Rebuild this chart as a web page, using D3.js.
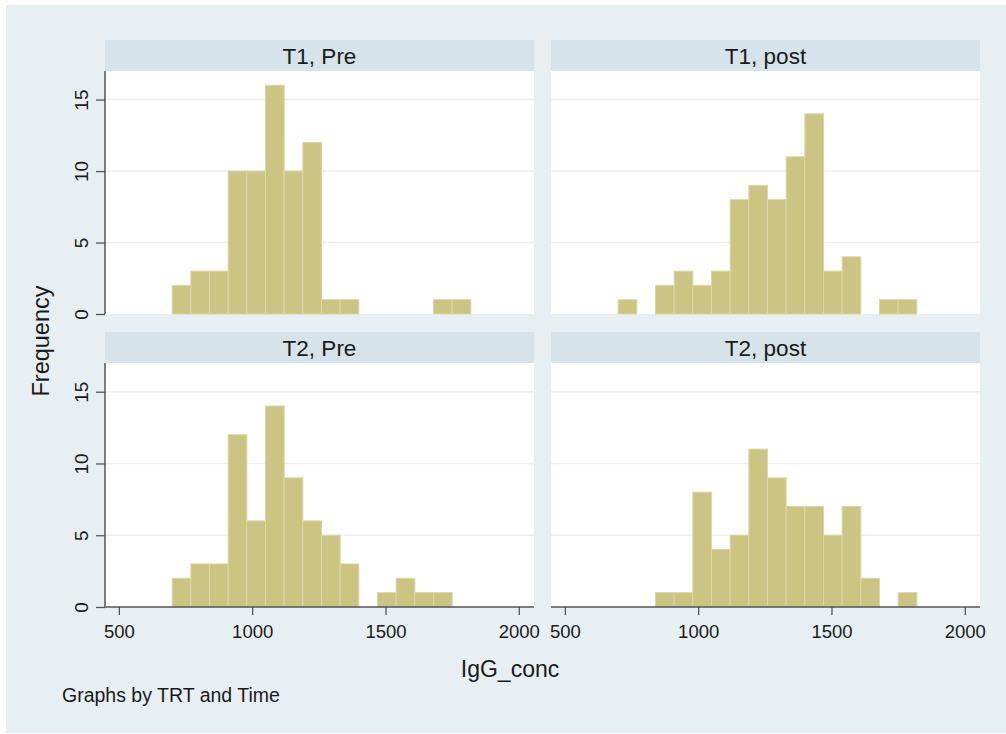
<!DOCTYPE html>
<html>
<head>
<meta charset="utf-8">
<script src="https://cdn.jsdelivr.net/npm/d3@7"></script>
<style>
  html, body { margin: 0; padding: 0; background: #ffffff; }
  svg { display: block; }
  text { font-family: "Liberation Sans", Arial, sans-serif; fill: #1a1a1a; }
</style>
</head>
<body>
<svg id="chart" width="1006" height="734"></svg>
<script>
// ---------------- data ----------------
const binStarts = [700, 770, 840, 910, 980, 1050, 1120, 1190, 1260, 1330, 1400, 1470, 1540, 1610, 1680, 1750];
const binWidth = 70;
const panelTitles = ["T1, Pre", "T1, post", "T2, Pre", "T2, post"];
const countsT1Pre  = [2, 3, 3, 10, 10, 16, 10, 12, 1, 1, 0, 0, 0, 0, 1, 1];
const countsT1Post = [1, 0, 2, 3, 2, 3, 8, 9, 8, 11, 14, 3, 4, 0, 1, 1];
const countsT2Pre  = [2, 3, 3, 12, 6, 14, 9, 6, 5, 3, 0, 1, 2, 1, 1, 0];
const countsT2Post = [0, 0, 1, 1, 8, 4, 5, 11, 9, 7, 7, 5, 7, 2, 0, 1];
const xTicks = [500, 1000, 1500, 2000];
const yTicks = [0, 5, 10, 15];
const xTitle = "IgG_conc";
const yTitle = "Frequency";
const note = "Graphs by TRT and Time";

// ---------------- layout ----------------
const svg = d3.select("#chart");
const bg = "#e8eff2", headerFill = "#d7e3ea", barFill = "#cbc482", barStroke = "#dcd7a6";

svg.append("rect").attr("x", 6).attr("y", 5).attr("width", 1000).attr("height", 728).attr("fill", bg);

const cols = [{x0: 105, x1: 534}, {x0: 551, x1: 980}];
const rows = [{h0: 40, y0: 71, y1: 314}, {h0: 332, y0: 363, y1: 607}];
const xDomain = [448, 2057];
const yDomain = [0, 17];

const panels = [
  {title: panelTitles[0], counts: countsT1Pre,  c: 0, r: 0},
  {title: panelTitles[1], counts: countsT1Post, c: 1, r: 0},
  {title: panelTitles[2], counts: countsT2Pre,  c: 0, r: 1},
  {title: panelTitles[3], counts: countsT2Post, c: 1, r: 1}
];

panels.forEach(p => {
  const col = cols[p.c], row = rows[p.r];
  const x = d3.scaleLinear().domain(xDomain).range([col.x0, col.x1]);
  const y = d3.scaleLinear().domain(yDomain).range([row.y1, row.y0]);
  const g = svg.append("g");

  // header strip
  g.append("rect").attr("x", col.x0).attr("y", row.h0)
    .attr("width", col.x1 - col.x0).attr("height", row.y0 - row.h0).attr("fill", headerFill);
  g.append("text").attr("x", (col.x0 + col.x1) / 2).attr("y", row.h0 + 24)
    .attr("text-anchor", "middle").style("font-size", "22.5px").text(p.title);

  // plot region
  g.append("rect").attr("x", col.x0).attr("y", row.y0)
    .attr("width", col.x1 - col.x0).attr("height", row.y1 - row.y0).attr("fill", "#ffffff");

  // gridlines
  g.selectAll("line.grid").data(yTicks.filter(t => t > 0)).enter().append("line")
    .attr("x1", col.x0).attr("x2", col.x1)
    .attr("y1", d => y(d)).attr("y2", d => y(d))
    .attr("stroke", "#eaf1f3").attr("stroke-width", 1.5);

  // bars
  g.selectAll("rect.bar").data(binStarts.map((s, i) => ({s, v: p.counts[i]})).filter(d => d.v > 0))
    .enter().append("rect")
    .attr("x", d => x(d.s)).attr("width", d => x(d.s + binWidth) - x(d.s))
    .attr("y", d => y(d.v)).attr("height", d => y(0) - y(d.v))
    .attr("fill", barFill).attr("stroke", barStroke).attr("stroke-width", 1);

  // y axis (left column)
  if (p.c === 0) {
    const ya = g.append("g").attr("transform", `translate(${col.x0},0)`)
      .call(d3.axisLeft(y).tickValues(yTicks).tickSize(9).tickFormat(d3.format("d")));
    ya.select(".domain").attr("d", `M0,${row.y0}V${row.y1}`).attr("stroke", "#555").attr("stroke-width", 1.5);
    ya.selectAll(".tick line").attr("stroke", "#555").attr("stroke-width", 1.3);
    ya.selectAll(".tick text")
      .attr("x", null).attr("dy", null)
      .attr("transform", "translate(-17,0) rotate(-90)")
      .attr("text-anchor", "middle")
      .style("font-size", "19px").style("font-family", "'Liberation Sans', Arial, sans-serif").attr("fill", "#1a1a1a");
  }

  // x axis (bottom row)
  if (p.r === 1) {
    const xa = g.append("g").attr("transform", `translate(0,${row.y1})`)
      .call(d3.axisBottom(x).tickValues(xTicks).tickSize(8).tickFormat(d3.format("d")));
    xa.select(".domain").attr("d", `M${col.x0},0H${col.x1}`).attr("stroke", "#555").attr("stroke-width", 1.5);
    xa.selectAll(".tick line").attr("stroke", "#555").attr("stroke-width", 1.3);
    xa.selectAll(".tick text").attr("y", 18).attr("dy", "0.71em")
      .style("font-size", "18.5px").style("font-family", "'Liberation Sans', Arial, sans-serif").attr("fill", "#1a1a1a");
  }
});

// axis titles and note
svg.append("text").attr("transform", "translate(49,341) rotate(-90)")
  .attr("text-anchor", "middle").style("font-size", "23.5px").text(yTitle);
svg.append("text").attr("x", 510).attr("y", 677)
  .attr("text-anchor", "middle").style("font-size", "23px").text(xTitle);
svg.append("text").attr("x", 62).attr("y", 702)
  .style("font-size", "19.5px").text(note);
</script>
</body>
</html>
